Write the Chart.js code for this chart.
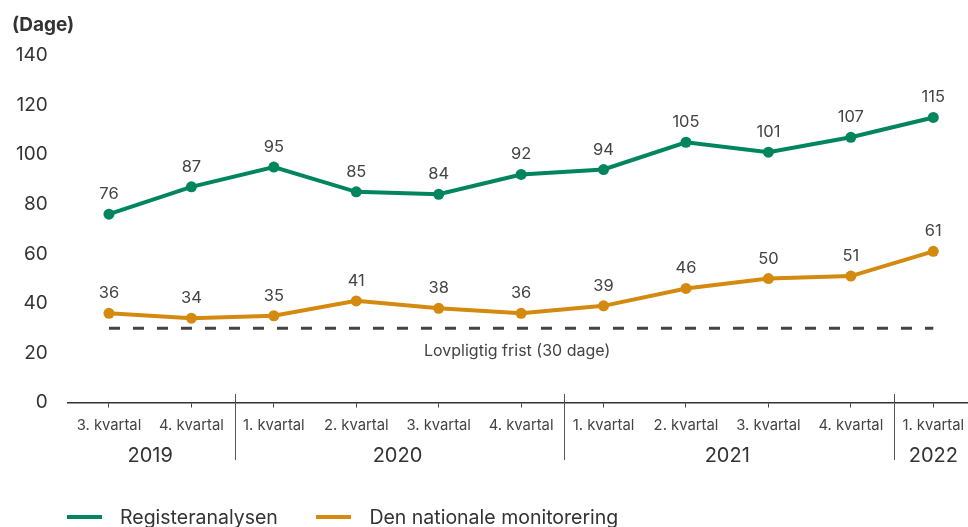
<!DOCTYPE html>
<html>
<head>
<meta charset="utf-8">
<script src="https://cdn.jsdelivr.net/npm/chart.js@4"></script>
<style>
  html, body { margin: 0; padding: 0; background: #fff; overflow: hidden; }
  #wrap { position: relative; width: 980px; height: 527px; }
  #unit { position: absolute; left: 12px; top: 13px; font: bold 19px Inter, sans-serif; color: #333; }
  #legend { position: absolute; left: 67px; top: 505px; font: 19.5px Inter, sans-serif; color: #333; white-space: nowrap; }
  #legend span.item { display: inline-block; margin-right: 33px; }
  #legend span.sw { display: inline-block; width: 35px; height: 4px; vertical-align: middle; margin-right: 18px; position: relative; top: -2px; }
</style>
</head>
<body>
<div id="wrap">
  <canvas id="myChart" width="980" height="527"></canvas>
  <div id="unit">(Dage)</div>
  <div id="legend">
    <span class="item"><span class="sw" style="background:#00855f"></span>Registeranalysen</span>
    <span class="item"><span class="sw" style="background:#d4890f"></span>Den nationale monitorering</span>
  </div>
</div>
<script>
// data
const quarters = ['3. kvartal', '4. kvartal', '1. kvartal', '2. kvartal', '3. kvartal', '4. kvartal',
                  '1. kvartal', '2. kvartal', '3. kvartal', '4. kvartal', '1. kvartal'];
const years = ['2019', '2020', '2021', '2022'];
const yearSizes = [2, 4, 4, 1];
const registeranalysen = [76, 87, 95, 85, 84, 92, 94, 105, 101, 107, 115];
const monitorering = [36, 34, 35, 41, 38, 36, 39, 46, 50, 51, 61];
const frist = [30, 30, 30, 30, 30, 30, 30, 30, 30, 30, 30];
const fristLabel = 'Lovpligtig frist (30 dage)';
const yTicks = [0, 20, 40, 60, 80, 100, 120, 140];

const GREEN = '#00855f';
const ORANGE = '#d4890f';
const TEXT = '#444';

/* labels over points + years + group lines */
const extras = {
  id: 'extras',
  afterDatasetsDraw(chart) {
    const ctx = chart.ctx;
    const x = chart.scales.x, y = chart.scales.y;
    ctx.save();
    ctx.fillStyle = TEXT;
    ctx.font = '16.5px Inter, sans-serif';
    ctx.textAlign = 'center';
    ctx.textBaseline = 'alphabetic';
    [0, 1].forEach(function(di){
      chart.getDatasetMeta(di).data.forEach(function(pt, i){
        ctx.fillText(chart.data.datasets[di].data[i], pt.x, pt.y - 15);
      });
    });
    // frist label
    ctx.font = '16px Inter, sans-serif';
    ctx.textBaseline = 'middle';
    ctx.fillText(fristLabel, (x.getPixelForValue(0) + x.getPixelForValue(quarters.length - 1)) / 2 - 4,
                 y.getPixelForValue(30) + 23);

    // years and dividers
    ctx.font = '20px Inter, sans-serif';
    ctx.fillStyle = '#333';
    ctx.strokeStyle = '#555';
    ctx.lineWidth = 1;
    let start = 0;
    years.forEach(function(yr, k){
      const end = start + yearSizes[k] - 1;
      const cx = (x.getPixelForValue(start) + x.getPixelForValue(end)) / 2;
      ctx.fillText(yr, cx, 456);
      if (k > 0) {
        const dx = Math.round((x.getPixelForValue(start - 1) + x.getPixelForValue(start)) / 2 + 2) + 0.5;
        ctx.beginPath();
        ctx.moveTo(dx, 394);
        ctx.lineTo(dx, 460);
        ctx.stroke();
      }
      start = end + 1;
    });
    ctx.restore();
  }
};

new Chart(document.getElementById('myChart').getContext('2d'), {
  type: 'line',
  data: {
    labels: quarters,
    datasets: [{
      label: 'Registeranalysen',
      data: registeranalysen,
      borderColor: GREEN,
      backgroundColor: GREEN,
      borderWidth: 4,
      pointRadius: 5.5,
      pointBorderWidth: 0,
      pointHoverRadius: 5.5,
      tension: 0
    }, {
      label: 'Den nationale monitorering',
      data: monitorering,
      borderColor: ORANGE,
      backgroundColor: ORANGE,
      borderWidth: 4,
      pointRadius: 5.5,
      pointBorderWidth: 0,
      pointHoverRadius: 5.5,
      tension: 0
    }, {
      label: fristLabel,
      data: frist,
      borderColor: '#444',
      borderWidth: 3,
      borderDash: [11, 13],
      pointRadius: 0,
      tension: 0
    }]
  },
  options: {
    responsive: false,
    animation: false,
    layout: { padding: { top: 55.5, right: 4.75, left: 0, bottom: 0 } },
    plugins: {
      legend: { display: false },
      tooltip: { enabled: false }
    },
    scales: {
      x: {
        offset: true,
        afterFit: function(s){ s.height = 124.5; },
        grid: { drawOnChartArea: false, drawTicks: true, tickLength: 5, color: '#444', offset: false },
        border: { display: true, color: '#333', width: 1.5 },
        ticks: { color: TEXT, font: { family: 'Inter, sans-serif', size: 14.8 }, padding: 9, maxRotation: 0, autoSkip: false }
      },
      y: {
        min: 0,
        max: 140,
        afterFit: function(s){ s.width = 67.75; },
        afterBuildTicks: function(s){ s.ticks = yTicks.map(function(v){ return { value: v }; }); },
        grid: { display: false, drawTicks: false },
        border: { display: false },
        ticks: { color: '#333', font: { family: 'Inter, sans-serif', size: 19 }, padding: 20 }
      }
    }
  },
  plugins: [extras]
});
</script>
</body>
</html>
